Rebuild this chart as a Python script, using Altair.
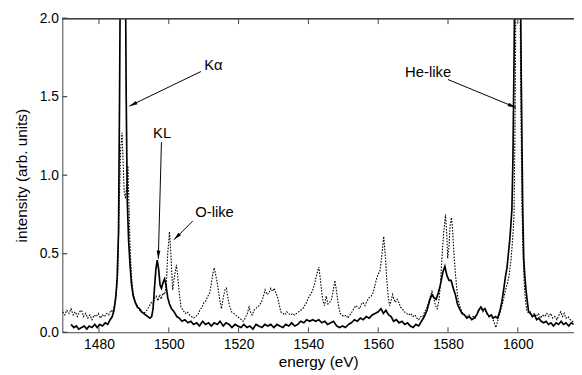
import math
import altair as alt
import pandas as pd

# ---------------- data ----------------
solid_energy = [
    1472.0, 1472.8, 1473.5, 1474.2, 1475.0, 1475.8, 1476.5, 1477.2, 1478.0, 1478.8,
    1479.5, 1480.2, 1481.0, 1481.8, 1482.5, 1483.2, 1483.8, 1484.3, 1484.8, 1485.2,
    1485.6, 1485.9, 1486.2, 1486.9, 1487.5, 1487.8, 1488.1, 1488.5, 1488.9, 1489.3,
    1489.8, 1490.4, 1491.0, 1491.6, 1492.2, 1492.8, 1493.4, 1494.0, 1494.6, 1495.1,
    1495.5, 1495.9, 1496.3, 1496.7, 1497.1, 1497.5, 1497.9, 1498.4, 1498.8, 1499.2,
    1499.7, 1500.2, 1500.8, 1501.5, 1502.3, 1503.0, 1503.8, 1504.6, 1505.5, 1506.3,
    1507.1, 1508.0, 1508.8, 1509.7, 1510.5, 1511.4, 1512.2, 1513.0, 1513.9, 1514.7,
    1515.6, 1516.4, 1517.3, 1518.1, 1519.0, 1519.8, 1520.7, 1521.5, 1522.4, 1523.2,
    1524.1, 1525.0, 1525.8, 1526.7, 1527.5, 1528.4, 1529.2, 1530.1, 1531.0, 1531.8,
    1532.7, 1533.5, 1534.4, 1535.2, 1536.1, 1537.0, 1537.8, 1538.7, 1539.5, 1540.4,
    1541.2, 1542.1, 1543.0, 1543.8, 1544.7, 1545.5, 1546.4, 1547.2, 1548.1, 1548.9,
    1549.8, 1550.6, 1551.5, 1552.3, 1553.2, 1554.0, 1554.9, 1555.7, 1556.6, 1557.4,
    1558.3, 1559.1, 1560.0, 1560.8, 1561.5, 1562.2, 1563.0, 1563.7, 1564.4, 1565.2,
    1566.0, 1566.8, 1567.6, 1568.4, 1569.2, 1570.0, 1570.8, 1571.6, 1572.4, 1573.2,
    1574.0, 1574.7, 1575.4, 1576.0, 1576.6, 1577.2, 1577.8, 1578.5, 1579.1, 1579.7,
    1580.3, 1580.9, 1581.5, 1582.1, 1582.7, 1583.3, 1584.0, 1584.7, 1585.4, 1586.1,
    1586.8, 1587.5, 1588.2, 1588.8, 1589.4, 1590.0, 1590.6, 1591.2, 1591.8, 1592.4,
    1593.0, 1593.6, 1594.2, 1594.8, 1595.4, 1596.0, 1596.5, 1596.9, 1597.3, 1597.7,
    1598.0, 1598.3, 1598.6, 1598.9, 1599.2, 1600.0, 1600.7, 1601.0, 1601.4, 1601.7,
    1602.0, 1602.3, 1602.7, 1603.1, 1603.6, 1604.2, 1604.8, 1605.4, 1606.0, 1606.7,
    1607.4, 1608.1, 1608.8, 1609.5, 1610.2, 1611.0, 1611.7, 1612.4, 1613.1, 1613.8,
    1614.6, 1615.3, 1616.0,
]
solid_intensity = [
    0.05, 0.03, 0.04, 0.02, 0.03, 0.04, 0.02, 0.04, 0.03, 0.05,
    0.03, 0.05, 0.04, 0.06, 0.05, 0.08, 0.10, 0.14, 0.22, 0.34,
    0.64, 1.50, 2.60, 3.00, 2.60, 1.50, 0.84, 0.58, 0.43, 0.31,
    0.23, 0.19, 0.16, 0.15, 0.13, 0.12, 0.11, 0.10, 0.09, 0.10,
    0.15, 0.28, 0.40, 0.46, 0.40, 0.30, 0.28, 0.32, 0.34, 0.30,
    0.22, 0.18, 0.15, 0.13, 0.10, 0.09, 0.07, 0.08, 0.06, 0.07,
    0.05, 0.06, 0.04, 0.07, 0.05, 0.06, 0.04, 0.06, 0.05, 0.07,
    0.04, 0.06, 0.05, 0.03, 0.05, 0.04, 0.03, 0.05, 0.03, 0.04,
    0.02, 0.05, 0.04, 0.03, 0.05, 0.04, 0.05, 0.03, 0.05, 0.04,
    0.03, 0.05, 0.04, 0.06, 0.04, 0.05, 0.07, 0.06, 0.08, 0.07,
    0.08, 0.07, 0.08, 0.06, 0.07, 0.05, 0.06, 0.07, 0.04, 0.03,
    0.04, 0.03, 0.05, 0.06, 0.08, 0.07, 0.09, 0.08, 0.10, 0.09,
    0.11, 0.12, 0.13, 0.15, 0.12, 0.14, 0.11, 0.10, 0.07, 0.08,
    0.06, 0.07, 0.05, 0.06, 0.04, 0.03, 0.05, 0.04, 0.07, 0.10,
    0.14, 0.20, 0.24, 0.22, 0.21, 0.25, 0.30, 0.38, 0.42, 0.36,
    0.33, 0.33, 0.28, 0.24, 0.18, 0.15, 0.12, 0.11, 0.09, 0.10,
    0.08, 0.09, 0.11, 0.14, 0.16, 0.14, 0.15, 0.12, 0.10, 0.11,
    0.09, 0.10, 0.09, 0.13, 0.19, 0.28, 0.36, 0.41, 0.50, 0.59,
    0.68, 0.78, 1.10, 1.70, 2.40, 3.00, 2.40, 1.60, 0.80, 0.47,
    0.36, 0.28, 0.20, 0.13, 0.12, 0.10, 0.11, 0.08, 0.09, 0.07,
    0.06, 0.07, 0.05, 0.06, 0.04, 0.06, 0.05, 0.07, 0.05, 0.06,
    0.04, 0.06, 0.05,
]

dotted_energy = [
    1469.6, 1470.2, 1470.8, 1471.4, 1472.0, 1472.6, 1473.2, 1473.8, 1474.4, 1475.0,
    1475.6, 1476.2, 1476.8, 1477.4, 1478.0, 1478.6, 1479.2, 1479.8, 1480.4, 1481.0,
    1481.6, 1482.2, 1482.8, 1483.4, 1484.0, 1484.5, 1485.0, 1485.4, 1485.8, 1486.2,
    1486.6, 1486.9, 1487.2, 1487.6, 1488.0, 1488.3, 1488.6, 1488.9, 1489.3, 1489.8,
    1490.4, 1491.0, 1491.6, 1492.2, 1492.8, 1493.4, 1494.0, 1494.5, 1495.0, 1495.5,
    1496.0, 1496.4, 1496.9, 1497.4, 1497.8, 1498.3, 1498.8, 1499.3, 1499.7, 1500.2,
    1500.6, 1501.1, 1501.6, 1502.2, 1502.6, 1502.9, 1503.5, 1504.1, 1504.7, 1505.3,
    1505.9, 1506.5, 1507.1, 1507.7, 1508.3, 1508.9, 1509.5, 1510.1, 1510.6, 1511.2,
    1511.7, 1512.2, 1512.6, 1513.0, 1513.5, 1514.0, 1514.5, 1515.1, 1515.6, 1516.1,
    1516.5, 1517.0, 1517.4, 1518.0, 1518.6, 1519.1, 1519.7, 1520.2, 1520.8, 1521.3,
    1521.9, 1522.5, 1523.0, 1523.5, 1523.9, 1524.4, 1524.9, 1525.4, 1525.9, 1526.5,
    1527.0, 1527.6, 1528.1, 1528.7, 1529.2, 1529.7, 1530.2, 1530.7, 1531.2, 1531.7,
    1532.1, 1532.7, 1533.2, 1533.8, 1534.3, 1534.9, 1535.5, 1536.0, 1536.6, 1537.2,
    1537.8, 1538.4, 1538.9, 1539.5, 1540.0, 1540.6, 1541.1, 1541.7, 1542.3, 1543.0,
    1543.4, 1543.8, 1544.2, 1544.6, 1545.1, 1545.6, 1546.0, 1546.5, 1546.9, 1547.3,
    1547.6, 1548.0, 1548.3, 1548.7, 1549.1, 1549.6, 1550.2, 1550.8, 1551.3, 1551.9,
    1552.5, 1553.0, 1553.6, 1554.1, 1554.7, 1555.2, 1555.6, 1556.2, 1556.8, 1557.4,
    1558.0, 1558.5, 1559.0, 1559.5, 1560.0, 1560.5, 1561.0, 1561.6, 1562.1, 1562.5,
    1562.9, 1563.3, 1563.7, 1564.1, 1564.5, 1564.9, 1565.4, 1565.9, 1566.4, 1566.9,
    1567.5, 1568.1, 1568.7, 1569.3, 1569.9, 1570.5, 1571.1, 1571.6, 1572.2, 1572.8,
    1573.3, 1573.8, 1574.3, 1574.8, 1575.4, 1575.9, 1576.4, 1576.9, 1577.4, 1577.8,
    1578.2, 1578.7, 1579.3, 1579.7, 1579.9, 1580.3, 1580.6, 1581.0, 1581.3, 1581.7,
    1582.1, 1582.5, 1582.9, 1583.3, 1583.8, 1584.3, 1584.8, 1585.4, 1586.0, 1586.6,
    1587.2, 1587.8, 1588.4, 1588.9, 1589.4, 1590.0, 1590.5, 1591.1, 1591.7, 1592.3,
    1592.9, 1593.4, 1593.7, 1594.1, 1594.6, 1595.1, 1595.6, 1596.0, 1596.5, 1597.0,
    1597.5, 1598.0, 1598.3, 1598.6, 1598.9, 1599.2, 1599.5, 1600.1, 1600.6, 1600.9,
    1601.2, 1601.5, 1601.8, 1602.2, 1602.6, 1603.1, 1603.6, 1604.1, 1604.7, 1605.3,
    1605.9, 1606.5, 1607.1, 1607.7, 1608.3, 1608.9, 1609.4, 1610.0, 1610.6, 1611.2,
    1611.8, 1612.3, 1612.8, 1613.3, 1613.8, 1614.4, 1615.0, 1615.6, 1616.1,
]
dotted_intensity = [
    0.13, 0.11, 0.14, 0.12, 0.15, 0.11, 0.13, 0.10, 0.13, 0.14,
    0.10, 0.12, 0.09, 0.11, 0.08, 0.11, 0.10, 0.12, 0.09, 0.11,
    0.10, 0.12, 0.11, 0.14, 0.13, 0.18, 0.26, 0.38, 0.80, 1.16,
    1.27, 1.10, 0.90, 0.85, 0.95, 1.06, 0.80, 0.55, 0.36, 0.25,
    0.19, 0.17, 0.14, 0.13, 0.12, 0.13, 0.15, 0.17, 0.19, 0.18,
    0.22, 0.23, 0.20, 0.24, 0.21, 0.25, 0.24, 0.30, 0.50, 0.64,
    0.50, 0.27, 0.35, 0.43, 0.35, 0.27, 0.16, 0.14, 0.12, 0.13,
    0.11, 0.10, 0.09, 0.10, 0.11, 0.14, 0.16, 0.19, 0.20, 0.23,
    0.25, 0.31, 0.37, 0.41, 0.36, 0.30, 0.22, 0.15, 0.22, 0.27,
    0.28, 0.21, 0.17, 0.13, 0.12, 0.11, 0.10, 0.09, 0.08, 0.07,
    0.09, 0.12, 0.16, 0.12, 0.11, 0.14, 0.15, 0.16, 0.17, 0.19,
    0.22, 0.27, 0.24, 0.25, 0.28, 0.26, 0.28, 0.25, 0.22, 0.17,
    0.13, 0.12, 0.11, 0.13, 0.12, 0.11, 0.12, 0.11, 0.12, 0.13,
    0.14, 0.15, 0.17, 0.19, 0.22, 0.24, 0.26, 0.30, 0.36, 0.415,
    0.34, 0.26, 0.20, 0.17, 0.23, 0.18, 0.19, 0.20, 0.24, 0.29,
    0.33, 0.27, 0.22, 0.16, 0.12, 0.11, 0.10, 0.11, 0.09, 0.11,
    0.13, 0.15, 0.17, 0.16, 0.15, 0.18, 0.19, 0.17, 0.20, 0.22,
    0.23, 0.25, 0.29, 0.34, 0.37, 0.39, 0.48, 0.61, 0.47, 0.32,
    0.22, 0.17, 0.20, 0.24, 0.21, 0.19, 0.21, 0.19, 0.16, 0.15,
    0.13, 0.12, 0.11, 0.12, 0.10, 0.11, 0.09, 0.08, 0.10, 0.10,
    0.13, 0.15, 0.18, 0.22, 0.26, 0.22, 0.17, 0.15, 0.20, 0.30,
    0.45, 0.62, 0.75, 0.60, 0.47, 0.55, 0.68, 0.73, 0.66, 0.50,
    0.38, 0.28, 0.21, 0.17, 0.14, 0.12, 0.11, 0.10, 0.11, 0.09,
    0.10, 0.09, 0.12, 0.14, 0.16, 0.13, 0.15, 0.12, 0.10, 0.11,
    0.08, 0.05, 0.03, 0.06, 0.10, 0.14, 0.18, 0.22, 0.27, 0.31,
    0.36, 0.45, 0.53, 0.62, 0.74, 1.30, 2.30, 3.00, 2.30, 1.40,
    0.80, 0.50, 0.33, 0.20, 0.14, 0.12, 0.13, 0.10, 0.12, 0.10,
    0.12, 0.09, 0.11, 0.10, 0.12, 0.10, 0.12, 0.09, 0.10, 0.08,
    0.11, 0.13, 0.10, 0.12, 0.09, 0.10, 0.08, 0.07, 0.06,
]

x_ticks = [1480, 1500, 1520, 1540, 1560, 1580, 1600]
y_ticks = [0.0, 0.5, 1.0, 1.5, 2.0]
x_domain = [1469.5, 1616.1]
y_domain = [0.0, 2.0]

# annotation labels (position in energy / intensity)
label_text = ["K\u03b1", "KL", "O-like", "He-like"]
label_energy = [1512.8, 1498.1, 1513.1, 1574.3]
label_intensity = [1.70, 1.27, 0.763, 1.658]

# arrows: start -> tip
arrow_e1 = [1509.2, 1497.9, 1506.9, 1580.0]
arrow_i1 = [1.66, 1.21, 0.709, 1.609]
arrow_e2 = [1488.7, 1497.0, 1501.5, 1599.4]
arrow_i2 = [1.44, 0.468, 0.589, 1.431]

# ---------------- chart ----------------
W, H = 518, 318
FONT = "Liberation Sans"

sx = W / (x_domain[1] - x_domain[0])
sy = H / (y_domain[1] - y_domain[0])

solid_df = pd.DataFrame({"energy": solid_energy, "intensity": solid_intensity})
dotted_df = pd.DataFrame({"energy": dotted_energy, "intensity": dotted_intensity})
label_df = pd.DataFrame({"label": label_text, "energy": label_energy, "intensity": label_intensity})

head_e, head_i, head_ang = [], [], []
for e1, i1, e2, i2 in zip(arrow_e1, arrow_i1, arrow_e2, arrow_i2):
    dx = (e2 - e1) * sx
    dy = -(i2 - i1) * sy
    L = math.hypot(dx, dy)
    ux, uy = dx / L, dy / L
    back = 4.0
    head_e.append(e2 - ux * back / sx)
    head_i.append(i2 + uy * back / sy)
    head_ang.append(math.degrees(math.atan2(dx, -dy)) % 360)

arrow_df = pd.DataFrame({"e1": arrow_e1, "i1": arrow_i1, "e2": arrow_e2, "i2": arrow_i2})
head_df = pd.DataFrame({"energy": head_e, "intensity": head_i, "ang": head_ang})

xscale = alt.Scale(domain=x_domain, nice=False, zero=False)
yscale = alt.Scale(domain=y_domain, nice=False, zero=True)

AXIS_COLOR = "#444"

x_axis = alt.Axis(
    values=x_ticks, format="d", ticks=False, grid=False,
    labelPadding=5, labelFontSize=14, labelFont=FONT, labelColor="black",
    title="energy (eV)", titleFont=FONT, titleFontSize=15.5, titleFontWeight="normal",
    titleColor="black", titlePadding=4, domainColor=AXIS_COLOR, domainWidth=1,
    labelFlush=False,
)
y_axis = alt.Axis(
    values=y_ticks, format=".1f", ticks=False, grid=False,
    labelPadding=4, labelFontSize=14, labelFont=FONT, labelColor="black",
    title="intensity (arb. units)", titleFont=FONT, titleFontSize=15.5,
    titleFontWeight="normal", titleColor="black", titlePadding=10,
    domainColor=AXIS_COLOR, domainWidth=1, labelFlush=False,
)

X = alt.X("energy:Q", scale=xscale, axis=x_axis)
Y = alt.Y("intensity:Q", scale=yscale, axis=y_axis)

dotted = alt.Chart(dotted_df).mark_line(
    color="black", strokeWidth=1.1, strokeDash=[1.6, 1.4], clip=True
).encode(x=X, y=Y, order="energy:Q")

solid = alt.Chart(solid_df).mark_line(
    color="black", strokeWidth=1.7, clip=True
).encode(x=X, y=Y, order="energy:Q")

xtick_df = pd.DataFrame({"energy": x_ticks})
ytick_df = pd.DataFrame({"intensity": y_ticks})

bottom_ticks = alt.Chart(xtick_df).mark_rule(color=AXIS_COLOR, strokeWidth=1).encode(
    x=X, y=alt.value(H), y2=alt.value(H - 5))
top_ticks = alt.Chart(xtick_df).mark_rule(color=AXIS_COLOR, strokeWidth=1).encode(
    x=X, y=alt.value(0), y2=alt.value(6))
left_ticks = alt.Chart(ytick_df).mark_rule(color=AXIS_COLOR, strokeWidth=1.2).encode(
    y=Y, x=alt.value(0), x2=alt.value(5))
top_border = alt.Chart(xtick_df).mark_rule(color=AXIS_COLOR, strokeWidth=1).encode(
    x=alt.value(0), x2=alt.value(W), y=alt.value(0.5))

arrows = alt.Chart(arrow_df).mark_rule(color="black", strokeWidth=1).encode(
    x=alt.X("e1:Q", scale=xscale, axis=x_axis), x2="e2:Q",
    y=alt.Y("i1:Q", scale=yscale, axis=y_axis), y2="i2:Q")

heads = alt.Chart(head_df).mark_point(
    shape="M0,-1L-0.45,1L0.45,1Z", filled=True, color="black", size=70, opacity=1
).encode(x=X, y=Y, angle=alt.Angle("ang:Q", scale=None))

labels = alt.Chart(label_df).mark_text(
    font=FONT, fontSize=15, color="black", align="center", baseline="middle"
).encode(x=X, y=Y, text="label:N")

chart = alt.layer(
    dotted, solid, bottom_ticks, top_ticks, left_ticks, top_border, arrows, heads, labels
).properties(
    width=W, height=H,
    autosize=alt.AutoSizeParams(type="none"),
    padding={"left": 55, "top": 8, "right": 0, "bottom": 40},
    background="white",
).configure_view(stroke=None)

chart.save("out.html", embed_options={"renderer": "svg", "actions": False})
